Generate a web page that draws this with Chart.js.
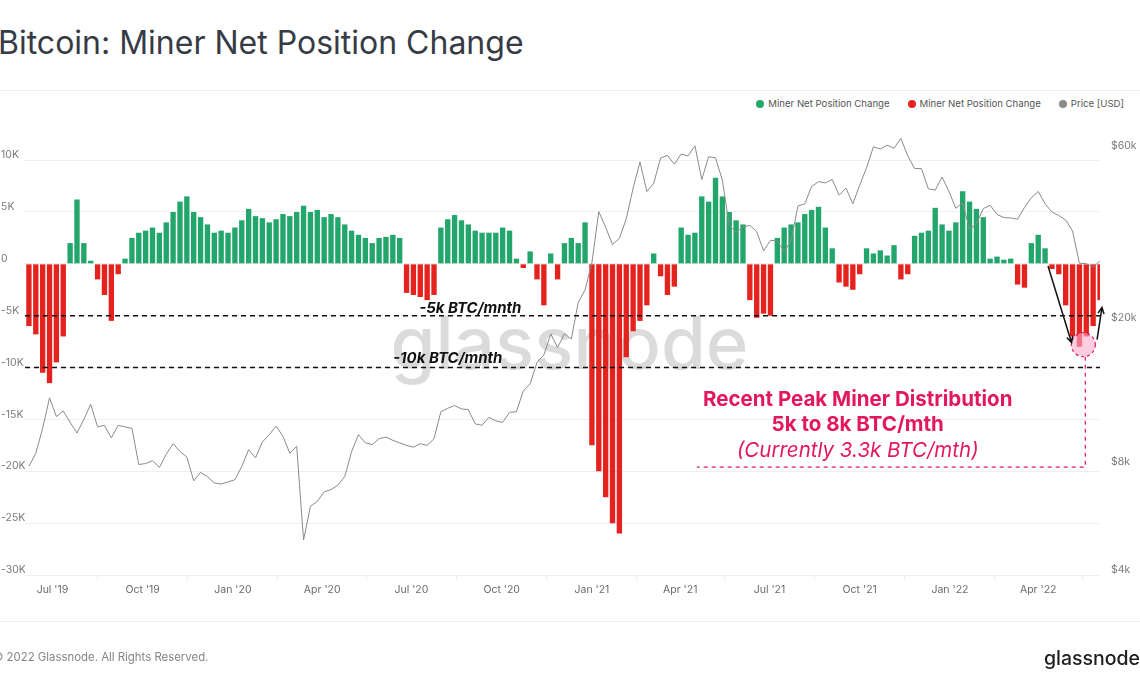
<!DOCTYPE html>
<html>
<head>
<meta charset="utf-8">
<script src="https://cdn.jsdelivr.net/npm/chart.js@4.4.0/dist/chart.umd.min.js"></script>
<style>
  body { margin: 0; background: #fff; font-family: Inter, "Noto Sans", sans-serif; }
  #page { position: relative; width: 1140px; height: 694px; overflow: hidden; }
  #title { position: absolute; left: -2px; top: 23px; font-size: 32px; color: #363b45; white-space: nowrap; }
  .rule { position: absolute; left: 0; width: 1140px; height: 1px; background: #ededed; }
  #legend { position: absolute; right: 16px; top: 98px; display: flex; gap: 18px; font-size: 9.6px; color: #555; white-space: nowrap; }
  #legend .dot { display: inline-block; width: 8px; height: 8px; border-radius: 50%; margin-right: 4px; vertical-align: -1px; }
  #copy { position: absolute; left: -7px; top: 650px; font-size: 11.4px; color: #858585; white-space: nowrap; }
  #logo { position: absolute; right: 0; top: 646px; font-size: 19.5px; color: #1d1d1d; font-weight: 500; }
  canvas { position: absolute; left: 0; top: 0; }
</style>
</head>
<body>
<div id="page">
  <div id="title">Bitcoin: Miner Net Position Change</div>
  <div class="rule" style="top:90px"></div>
  <div id="legend"></div>
  <canvas id="minerChart" width="1140" height="694"></canvas>
  <div class="rule" style="top:621px"></div>
  <div id="copy">© 2022 Glassnode. All Rights Reserved.</div>
  <div id="logo">glassnode</div>
</div>
<script>
// weekly samples, first one on this date
const firstWeek = '2019-06-07';

// miner net position change (BTC / 30d), one value per week
const netChange = [
  -6000, -6800, -10500, -11500, -9500, -7000, 2000, 6200, 2000, 300,
  -1500, -3000, -5500, -1000, 500, 2500, 3000, 3200, 3500, 3000,
  4000, 5000, 6000, 6500, 5000, 4500, 3800, 3000, 3200, 3000,
  3500, 4200, 5300, 4600, 4400, 4000, 4300, 4800, 4600, 5000,
  5600, 5000, 5200, 4500, 4800, 4500, 3800, 3200, 2800, 2500,
  2000, 2500, 2600, 2800, 2500, -2800, -3000, -3200, -3500, -3000,
  3500, 4300, 4700, 4200, 3800, 3200, 3000, 3000, 3000, 3500,
  3200, 500, -400, 1200, -1500, -4000, 1000, -1500, 2000, 2500,
  2000, 4000, -17500, -20000, -22500, -25000, -26000, -9000, -6500, -5500,
  -4000, 1000, -1200, -3000, -2200, 3500, 2800, 3000, 6500, 6000,
  8300, 6500, 5000, 4200, 3800, -3500, -5200, -4800, -5000, 2500,
  3500, 3800, 4000, 4800, 5200, 5500, 3500, 1500, -1800, -2200,
  -2500, -1000, 1500, 1000, 1300, 800, 1800, -1500, -1000, 2700,
  3000, 3200, 5400, 3800, 3200, 4000, 7000, 6000, 5300, 4500,
  500, 700, 400, 500, -2000, -2300, 2000, 2800, 1500, -500,
  -1000, -4000, -7000, -8000, -7000, -6000, -3500
];

// BTC price in USD, same weeks
const price = [
  8000, 8700, 10200, 12400, 11000, 11400, 10600, 9900, 10800, 11900,
  10300, 10400, 9600, 10400, 10300, 10200, 8100, 8150, 8300, 7950,
  8650, 9250, 8800, 8500, 7300, 7700, 7500, 7200, 7150, 7250,
  7350, 8000, 8900, 8450, 9350, 9800, 10350, 9700, 8700, 9100,
  5000, 6200, 6400, 6800, 6900, 7100, 7500, 8800, 9800, 9300,
  9200, 9550, 9650, 9450, 9300, 9150, 9050, 9250, 9150, 9550,
  11350, 11600, 11800, 11550, 11500, 10500, 10400, 10950, 10700, 10600,
  11300, 11350, 12950, 13550, 15550, 16300, 18650, 17100, 18650, 18050,
  22800, 24700, 29400, 40700, 36800, 33000, 34300, 38900, 47300, 55900,
  46300, 48800, 57300, 58300, 55100, 58800, 58100, 62000, 50000, 57800,
  57400, 49700, 37300, 35700, 36900, 37300, 35800, 31700, 33900, 33800,
  31500, 33700, 42200, 42800, 47800, 49300, 48900, 50000, 45200, 47300,
  42800, 48200, 53900, 61600, 60700, 62200, 61000, 65000, 58100, 53600,
  53600, 47100, 46700, 50800, 46300, 41600, 43100, 36300, 37700, 41500,
  42400, 40000, 39200, 39100, 38800, 41800, 44500, 46300, 42800, 40600,
  39700, 38600, 36000, 29300, 29200, 28600, 29700
];

const tickDates = ['2019-07-01', '2019-10-01', '2020-01-01', '2020-04-01', '2020-07-01', '2020-10-01',
  '2021-01-01', '2021-04-01', '2021-07-01', '2021-10-01', '2022-01-01', '2022-04-01'];
const tickLabels = ["Jul '19", "Oct '19", "Jan '20", "Apr '20", "Jul '20", "Oct '20",
  "Jan '21", "Apr '21", "Jul '21", "Oct '21", "Jan '22", "Apr '22"];
const leftTicks = [-30000, -25000, -20000, -15000, -10000, -5000, 0, 5000, 10000];
const priceTicks = [4000, 8000, 20000, 60000];

const GREEN = '#22a66c';
const RED = '#e4231f';
const GREY = '#8a8a8a';
const PINK = '#e3175c';

function dayNumber(s) {
    return Date.parse(s + 'T00:00:00Z') / 86400000;
}

const weekDays = netChange.map((v, i) => dayNumber(firstWeek) + 7 * i);
const tickDays = tickDates.map(dayNumber);

// legend
const legendItems = [
    ['Miner Net Position Change', GREEN],
    ['Miner Net Position Change', RED],
    ['Price [USD]', GREY]
];
document.getElementById('legend').innerHTML = legendItems
    .map(([label, color]) => `<div><span class="dot" style="background:${color}"></span>${label}</div>`)
    .join('');

function arrow(ctx, x1, y1, x2, y2) {
    const a = Math.atan2(y2 - y1, x2 - x1);
    ctx.beginPath();
    ctx.moveTo(x1, y1);
    ctx.lineTo(x2, y2);
    ctx.moveTo(x2 - 7 * Math.cos(a - 0.45), y2 - 7 * Math.sin(a - 0.45));
    ctx.lineTo(x2, y2);
    ctx.lineTo(x2 - 7 * Math.cos(a + 0.45), y2 - 7 * Math.sin(a + 0.45));
    ctx.stroke();
}

const notes = {
    id: 'notes',
    beforeDatasetsDraw(chart) {
        const { ctx, chartArea } = chart;
        ctx.save();
        ctx.font = '500 100px Inter';
        const w = ctx.measureText('glassnode').width;
        ctx.font = `500 ${100 * 358 / w}px Inter`;
        ctx.fillStyle = 'rgba(0,0,0,0.14)';
        ctx.textAlign = 'center';
        ctx.textBaseline = 'alphabetic';
        ctx.fillText('glassnode', (chartArea.left + chartArea.right) / 2 + 7, chartArea.top + 240);
        ctx.restore();
    },
    afterDatasetsDraw(chart) {
        const { ctx, chartArea } = chart;
        const x = chart.scales.x, y = chart.scales.y;
        const px = d => x.getPixelForValue(dayNumber(d));
        const py = v => y.getPixelForValue(v);
        ctx.save();

        // threshold lines
        ctx.strokeStyle = '#111';
        ctx.lineWidth = 1.4;
        ctx.setLineDash([5, 4]);
        [-5000, -10000].forEach(v => {
            ctx.beginPath();
            ctx.moveTo(chartArea.left, py(v));
            ctx.lineTo(chartArea.right, py(v));
            ctx.stroke();
        });
        ctx.setLineDash([]);
        ctx.fillStyle = '#111';
        ctx.font = 'italic 700 15px Inter';
        ctx.textAlign = 'center';
        ctx.textBaseline = 'alphabetic';
        ctx.fillText('-5k BTC/mnth', px('2020-08-30'), py(-5000) - 3);
        ctx.fillText('-10k BTC/mnth', px('2020-08-07'), py(-10000) - 5);

        // highlight circle
        const cx = px('2022-05-17'), cy = py(-7800);
        ctx.beginPath();
        ctx.arc(cx, cy, 12, 0, Math.PI * 2);
        ctx.fillStyle = 'rgba(250, 170, 205, 0.6)';
        ctx.fill();
        ctx.setLineDash([3, 3]);
        ctx.strokeStyle = PINK;
        ctx.lineWidth = 1.2;
        ctx.stroke();

        // pink guide
        ctx.setLineDash([4, 4]);
        ctx.beginPath();
        ctx.moveTo(px('2022-05-19'), cy + 12);
        ctx.lineTo(px('2022-05-19'), py(-19600));
        ctx.lineTo(px('2021-04-18'), py(-19600));
        ctx.stroke();
        ctx.setLineDash([]);

        // arrows
        ctx.strokeStyle = '#111';
        ctx.lineWidth = 1.5;
        arrow(ctx, px('2022-04-11'), py(-200), px('2022-05-05'), py(-7600));
        arrow(ctx, px('2022-05-31'), py(-7300), px('2022-06-05'), py(-4200));

        // pink text
        ctx.fillStyle = PINK;
        ctx.textBaseline = 'middle';
        const tx = px('2021-09-29');
        ctx.font = '700 20.5px Inter';
        ctx.fillText('Recent Peak Miner Distribution', tx, py(-13100));
        ctx.fillText('5k to 8k BTC/mth', tx, py(-15500));
        ctx.font = 'italic 400 20.5px Inter';
        ctx.fillText('(Currently 3.3k BTC/mth)', tx, py(-18000));
        ctx.restore();
    }
};

const ctx = document.getElementById('minerChart').getContext('2d');

new Chart(ctx, {
    type: 'bar',
    data: {
        datasets: [
            {
                type: 'line',
                label: 'Price [USD]',
                data: price.map((v, i) => ({ x: weekDays[i], y: v })),
                borderColor: GREY,
                borderWidth: 1,
                pointRadius: 0,
                yAxisID: 'yPrice',
                order: 0
            },
            {
                label: 'Miner Net Position Change',
                data: netChange.map((v, i) => ({ x: weekDays[i], y: v > 0 ? v : null })),
                backgroundColor: GREEN,
                grouped: false,
                barPercentage: 0.78,
                categoryPercentage: 1,
                yAxisID: 'y',
                order: 1
            },
            {
                label: 'Miner Net Position Change',
                data: netChange.map((v, i) => ({ x: weekDays[i], y: v < 0 ? v : null })),
                backgroundColor: RED,
                grouped: false,
                barPercentage: 0.78,
                categoryPercentage: 1,
                yAxisID: 'y',
                order: 1
            }
        ]
    },
    options: {
        responsive: false,
        animation: false,
        devicePixelRatio: 1,
        layout: { padding: { top: 129, left: 1, right: 0, bottom: 89 } },
        plugins: { legend: { display: false }, tooltip: { enabled: false } },
        scales: {
            x: {
                type: 'linear',
                offset: false,
                min: dayNumber('2019-06-03'),
                max: dayNumber('2022-06-03'),
                afterBuildTicks: s => { s.ticks = tickDays.map(v => ({ value: v })); },
                afterFit: s => { s.height = 30; },
                grid: { drawOnChartArea: false, tickLength: 5, color: '#ececec' },
                border: { display: false },
                ticks: {
                    padding: 4,
                    maxRotation: 0,
                    autoSkip: false,
                    color: '#6b6b6b',
                    font: { family: 'Inter', size: 10.5 },
                    callback: v => tickLabels[tickDays.indexOf(v)]
                }
            },
            y: {
                position: 'left',
                min: -30000,
                max: 13000,
                afterBuildTicks: s => { s.ticks = leftTicks.map(v => ({ value: v })); },
                afterFit: s => { s.width = 24; },
                grid: { color: '#efefef', drawTicks: false },
                border: { display: false },
                ticks: {
                    crossAlign: 'far',
                    labelOffset: -5,
                    padding: 0,
                    color: '#7a7a7a',
                    font: { family: 'Inter', size: 10.5 },
                    callback: v => v === 0 ? '0' : (v / 1000) + 'K'
                }
            },
            yPrice: {
                type: 'logarithmic',
                position: 'right',
                min: 4000,
                max: 69000,
                afterBuildTicks: s => { s.ticks = priceTicks.map(v => ({ value: v })); },
                afterFit: s => { s.width = 40; },
                grid: { display: false },
                border: { display: false },
                ticks: {
                    padding: 3,
                    labelOffset: -5,
                    color: '#7a7a7a',
                    font: { family: 'Inter', size: 10.5 },
                    callback: v => '$' + (v / 1000) + 'k'
                }
            }
        }
    },
    plugins: [notes]
});
</script>
</body>
</html>
